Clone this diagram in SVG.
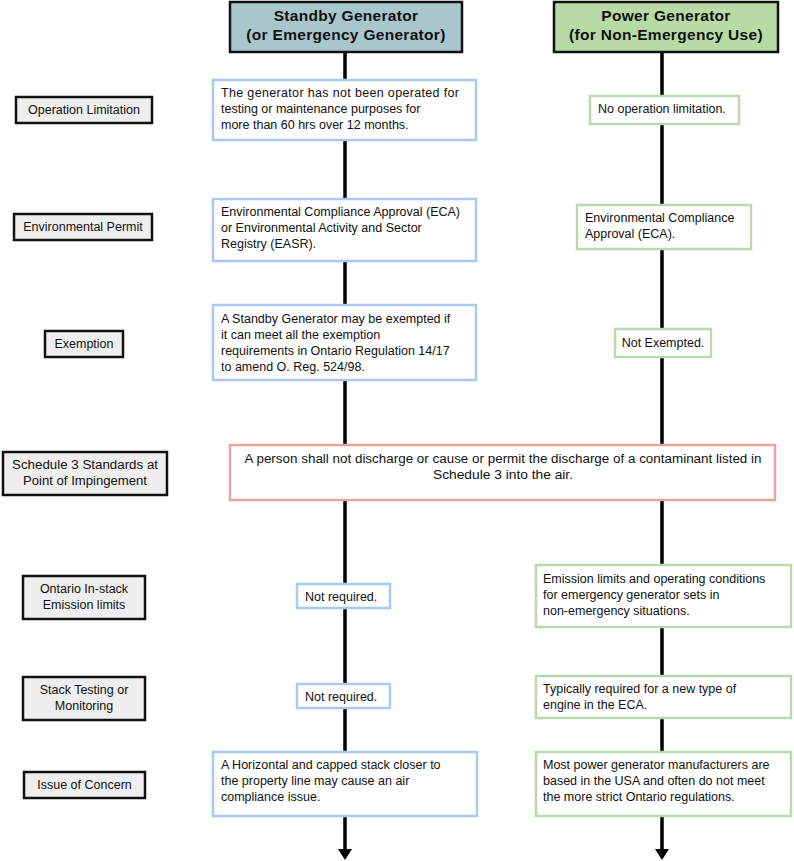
<svg xmlns="http://www.w3.org/2000/svg" width="794" height="861" viewBox="0 0 794 861">
<style>
text{font-family:"Liberation Sans",Arial,sans-serif;font-size:12.5px;fill:#111}
.hd{font-size:15.5px;font-weight:bold;text-anchor:middle;letter-spacing:0.3px}
.lbl rect{fill:#eeeeee;stroke:#111;stroke-width:2.5}
.lbl text{text-anchor:middle}
.b rect{fill:#fff;stroke:#a9c9f0;stroke-width:2.5}
.g rect{fill:#fff;stroke:#bcd9ad;stroke-width:2.5}
.p rect{fill:#fff;stroke:#e6a3a3;stroke-width:2.5}
.c{text-anchor:middle}
.ln{stroke:#000;stroke-width:3.5;fill:none}
</style>
<g id="connectors">
<line class="ln" x1="345" y1="52" x2="345" y2="850"/>
<line class="ln" x1="662" y1="52" x2="662" y2="850"/>
<path d="M338,849 L352,849 L345,860 Z" fill="#000"/>
<path d="M655,849 L669,849 L662,860 Z" fill="#000"/>
</g>
<g id="hdr-standby">
<rect x="230" y="2" width="232" height="50" fill="#a8c7cc" stroke="#111" stroke-width="2.5"/>
<text class="hd" x="346" y="21">Standby Generator</text>
<text class="hd" x="346" y="40">(or Emergency Generator)</text>
</g>
<g id="hdr-power">
<rect x="554" y="2" width="224" height="50" fill="#b8dba6" stroke="#111" stroke-width="2.5"/>
<text class="hd" x="666" y="21">Power Generator</text>
<text class="hd" x="666" y="40">(for Non-Emergency Use)</text>
</g>
<g id="lbl-op" class="lbl"><rect x="16" y="97" width="136" height="26"/><text x="84" y="114">Operation Limitation</text></g>
<g id="lbl-env" class="lbl"><rect x="14" y="214" width="138" height="26"/><text x="83" y="231">Environmental Permit</text></g>
<g id="lbl-ex" class="lbl"><rect x="45" y="331" width="78" height="26"/><text x="84" y="348">Exemption</text></g>
<g id="lbl-s3" class="lbl"><rect x="3" y="452" width="164" height="43"/><text x="85" y="469" textLength="146" lengthAdjust="spacingAndGlyphs">Schedule 3 Standards at</text><text x="85" y="485" textLength="124" lengthAdjust="spacingAndGlyphs">Point of Impingement</text></g>
<g id="lbl-stack" class="lbl"><rect x="23" y="576" width="122" height="43"/><text x="84" y="593">Ontario In-stack</text><text x="84" y="609">Emission limits</text></g>
<g id="lbl-test" class="lbl"><rect x="23" y="677" width="122" height="43"/><text x="84" y="694">Stack Testing or</text><text x="84" y="710">Monitoring</text></g>
<g id="lbl-issue" class="lbl"><rect x="24" y="772" width="121" height="26"/><text x="84.5" y="789">Issue of Concern</text></g>
<g id="sb-op" class="b"><rect x="213" y="80" width="263" height="60"/>
<text x="221" y="97" textLength="238">The generator has not been operated for</text>
<text x="221" y="113">testing or maintenance purposes for</text>
<text x="221" y="129">more than 60 hrs over 12 months.</text></g>
<g id="sb-env" class="b"><rect x="213" y="199" width="263" height="62"/>
<text x="221" y="216">Environmental Compliance Approval (ECA)</text>
<text x="221" y="232">or Environmental Activity and Sector</text>
<text x="221" y="248">Registry (EASR).</text></g>
<g id="sb-ex" class="b"><rect x="213" y="305" width="263" height="75"/>
<text x="221" y="323">A Standby Generator may be exempted if</text>
<text x="221" y="339">it can meet all the exemption</text>
<text x="221" y="355">requirements in Ontario Regulation 14/17</text>
<text x="221" y="371">to amend O. Reg. 524/98.</text></g>
<g id="s3" class="p"><rect x="230" y="445" width="545" height="55"/>
<text class="c" x="503" y="463" textLength="517" lengthAdjust="spacingAndGlyphs">A person shall not discharge or cause or permit the discharge of a contaminant listed in</text>
<text class="c" x="503" y="479" textLength="140" lengthAdjust="spacingAndGlyphs">Schedule 3 into the air.</text></g>
<g id="sb-stack" class="b"><rect x="297" y="584" width="93" height="24"/><text x="305" y="601">Not required.</text></g>
<g id="sb-test" class="b"><rect x="297" y="684" width="93" height="24"/><text x="305" y="701">Not required.</text></g>
<g id="sb-issue" class="b"><rect x="213" y="752" width="264" height="64"/>
<text x="221" y="769">A Horizontal and capped stack closer to</text>
<text x="221" y="785">the property line may cause an air</text>
<text x="221" y="801">compliance issue.</text></g>
<g id="pg-op" class="g"><rect x="590" y="96" width="149" height="28"/><text x="598" y="113">No operation limitation.</text></g>
<g id="pg-env" class="g"><rect x="577" y="205" width="174" height="44"/>
<text x="585" y="222">Environmental Compliance</text>
<text x="585" y="238">Approval (ECA).</text></g>
<g id="pg-ex" class="g"><rect x="615" y="329" width="96" height="28"/><text x="663" y="347" class="c">Not Exempted.</text></g>
<g id="pg-stack" class="g"><rect x="536" y="565" width="255" height="62"/>
<text x="543" y="583">Emission limits and operating conditions</text>
<text x="543" y="599">for emergency generator sets in</text>
<text x="543" y="615">non-emergency situations.</text></g>
<g id="pg-test" class="g"><rect x="536" y="676" width="255" height="42"/>
<text x="543" y="693">Typically required for a new type of</text>
<text x="543" y="709">engine in the ECA.</text></g>
<g id="pg-issue" class="g"><rect x="536" y="752" width="255" height="64"/>
<text x="543" y="769">Most power generator manufacturers are</text>
<text x="543" y="785">based in the USA and often do not meet</text>
<text x="543" y="801">the more strict Ontario regulations.</text></g>
</svg>
